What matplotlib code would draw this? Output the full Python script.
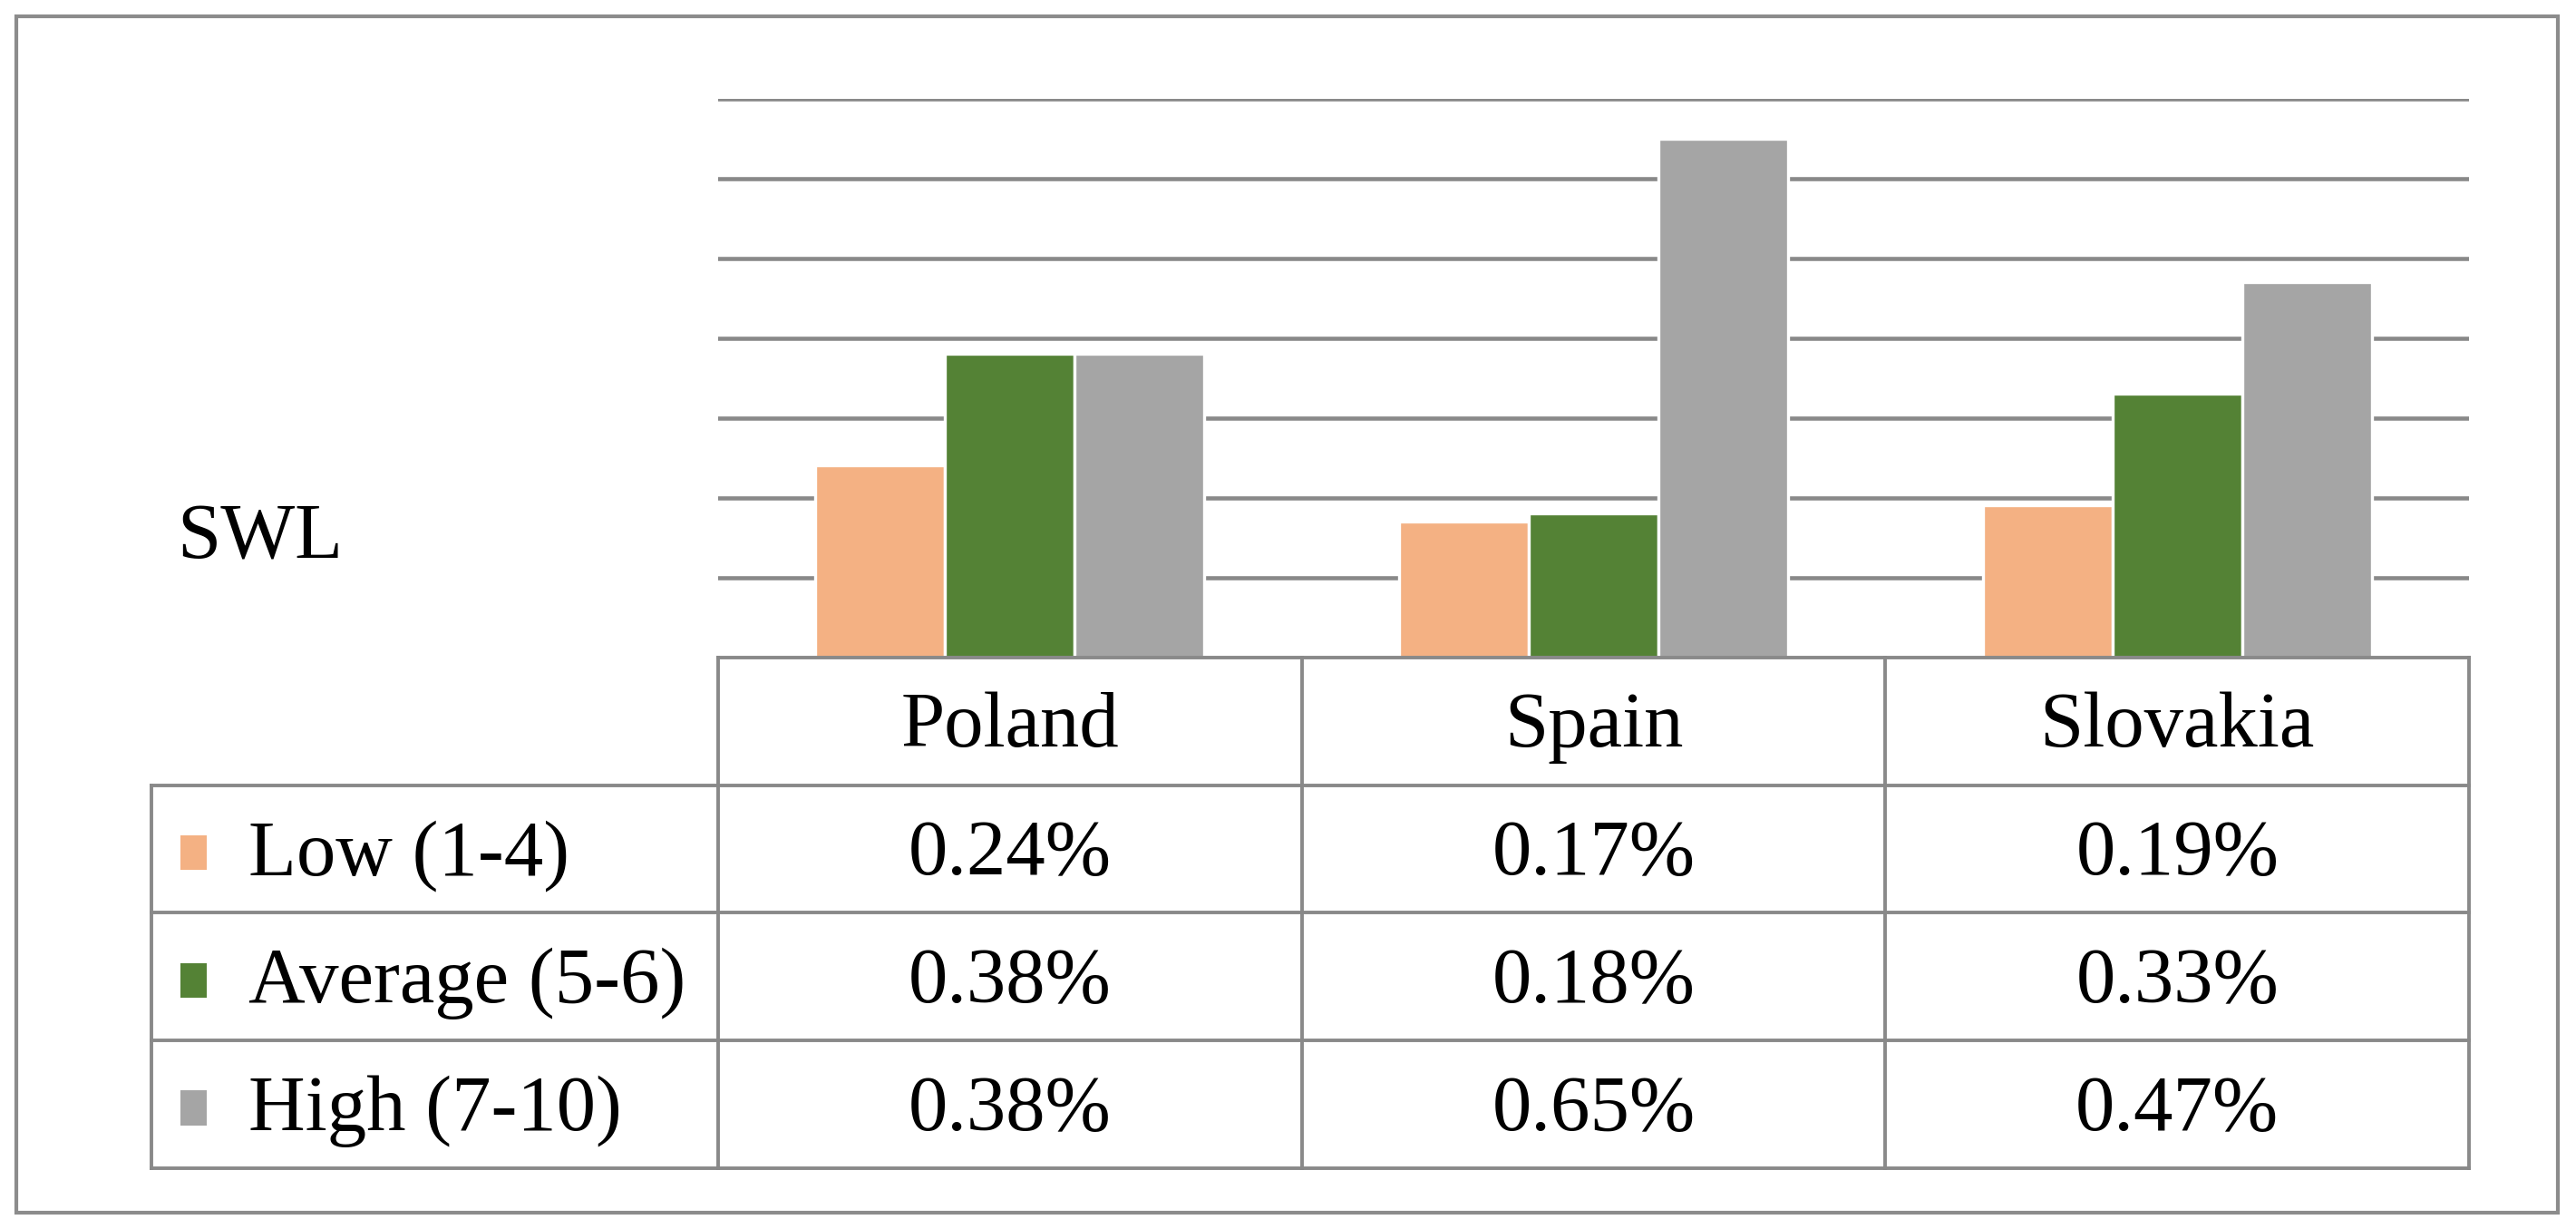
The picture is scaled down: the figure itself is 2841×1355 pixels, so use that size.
import matplotlib
matplotlib.use("Agg")
import matplotlib.pyplot as plt
from matplotlib.patches import Rectangle
import numpy as np

# ---------------- data ----------------
countries = ["Poland", "Spain", "Slovakia"]
series_names = ["Low (1-4)", "Average (5-6)", "High (7-10)"]
low = [0.24, 0.17, 0.19]
average = [0.38, 0.18, 0.33]
high = [0.38, 0.65, 0.47]
row_title = "SWL"
y_gridlines = [0.1, 0.2, 0.3, 0.4, 0.5, 0.6, 0.7]

series_values = [low, average, high]
colors = ["#F4B183", "#548235", "#A5A5A5"]
line_col = "#898989"
FONT = "Liberation Serif"
FS = 62.5

# ---------------- layout (in reference display units) ----------------
W, H = 1568.0, 748.0
fig = plt.figure(figsize=(28.41, 13.55), dpi=100)

plot_l, plot_r = 437.0, 1503.0
plot_top, plot_base = 60.0, 400.0
table_left = 92.0
row_h = 77.8

ax = fig.add_axes([plot_l / W, 1 - plot_base / H,
                   (plot_r - plot_l) / W, (plot_base - plot_top) / H])
ax.set_facecolor("none")
x = np.arange(len(countries))
bw = 0.222
for i, (vals, col) in enumerate(zip(series_values, colors)):
    ax.bar(x + (i - 1) * bw, vals, width=bw, color=col,
           edgecolor="white", linewidth=2.4, zorder=3)
ax.set_xlim(-0.5, len(countries) - 0.5)
ax.set_ylim(0, 0.7)
ax.set_yticks(y_gridlines)
ax.yaxis.grid(True, color=line_col, linewidth=3.3, zorder=0)
ax.set_axisbelow(True)
ax.tick_params(left=False, bottom=False, labelleft=False, labelbottom=False)
for s in ax.spines.values():
    s.set_visible(False)

# overlay axes for frame + table
ov = fig.add_axes([0, 0, 1, 1], zorder=5)
ov.set_xlim(0, W)
ov.set_ylim(H, 0)
ov.axis("off")
ov.set_facecolor("none")

ov.add_patch(Rectangle((10, 10), 1547, 728, fill=False,
                       edgecolor="#8C8C8C", linewidth=3.0))

ncol = len(countries)
col_edges = [plot_l + (plot_r - plot_l) * k / ncol for k in range(ncol + 1)]
row_edges = [plot_base + row_h * k for k in range(len(series_names) + 2)]
lw_t = 2.8
ov.plot([plot_l, plot_r], [plot_base, plot_base], color=line_col, lw=lw_t,
        solid_capstyle="projecting")
for y in row_edges[1:]:
    ov.plot([table_left, plot_r], [y, y], color=line_col, lw=lw_t,
            solid_capstyle="projecting")
ov.plot([table_left, table_left], [row_edges[1], row_edges[-1]],
        color=line_col, lw=lw_t, solid_capstyle="projecting")
for xe in col_edges:
    ov.plot([xe, xe], [plot_base, row_edges[-1]], color=line_col, lw=lw_t,
            solid_capstyle="projecting")

base_off = 15.5
for k, c in enumerate(countries):
    cx = (col_edges[k] + col_edges[k + 1]) / 2
    cy = (row_edges[0] + row_edges[1]) / 2
    ov.text(cx, cy + base_off, c, ha="center", va="baseline",
            fontsize=FS, family=FONT, color="black")

for r, (name, vals, col) in enumerate(zip(series_names, series_values, colors)):
    cy = (row_edges[r + 1] + row_edges[r + 2]) / 2
    ov.add_patch(Rectangle((110, cy + base_off - 24), 16, 21,
                           facecolor=col, edgecolor="none"))
    ov.text(151, cy + base_off, name, ha="left", va="baseline",
            fontsize=FS, family=FONT, color="black")
    for k, v in enumerate(vals):
        cx = (col_edges[k] + col_edges[k + 1]) / 2
        ov.text(cx, cy + base_off, f"{v:.2f}%", ha="center", va="baseline",
                fontsize=FS, family=FONT, color="black")

ov.text(108, 340, row_title, ha="left", va="baseline", fontsize=FS,
        family=FONT, color="black")

fig.savefig("out.png", dpi=100, facecolor="white")
